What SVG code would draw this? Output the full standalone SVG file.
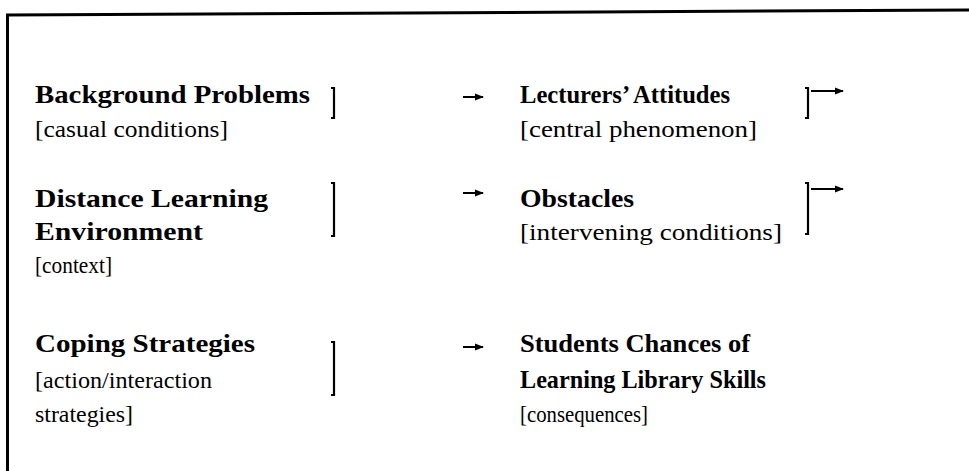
<svg xmlns="http://www.w3.org/2000/svg" width="969" height="471" viewBox="0 0 969 471">
<defs>
<marker id="ah" viewBox="0 0 10 10" refX="9" refY="5" markerWidth="9" markerHeight="9" markerUnits="userSpaceOnUse" orient="auto">
<path d="M0,1 L10,5 L0,9 Z" fill="#000"/>
</marker>
<style>
.b{font-family:"Liberation Serif","Times New Roman",serif;font-weight:bold;font-size:25px;fill:#000}
.r{font-family:"Liberation Serif","Times New Roman",serif;font-size:24px;fill:#000}
.br{fill:none;stroke:#000;stroke-width:2.2}
.ar{fill:none;stroke:#000;stroke-width:2;marker-end:url(#ah)}
.fr{fill:none;stroke:#000;stroke-width:3}
</style>
</defs>
<rect width="969" height="471" fill="#fff"/>
<g id="frame">
<path class="fr" d="M6,15 L969,10"/>
<path class="fr" d="M7.5,14 L7.5,471"/>
</g>
<g id="background-problems">
<text class="b" x="35" y="103" textLength="275" lengthAdjust="spacingAndGlyphs">Background Problems</text>
<text class="r" x="35" y="137" textLength="193" lengthAdjust="spacingAndGlyphs">[casual conditions]</text>
<path class="br" d="M331,88 L334,88 L334,118 L331,118"/>
</g>
<g id="lecturers-attitudes">
<text class="b" x="520" y="103" textLength="210" lengthAdjust="spacingAndGlyphs">Lecturers’ Attitudes</text>
<text class="r" x="520" y="137" textLength="237" lengthAdjust="spacingAndGlyphs">[central phenomenon]</text>
<path class="br" d="M805,88 L808,88 L808,118 L805,118"/>
</g>
<g id="distance-learning">
<text class="b" x="35" y="207" textLength="233" lengthAdjust="spacingAndGlyphs">Distance Learning</text>
<text class="b" x="35" y="240" textLength="168" lengthAdjust="spacingAndGlyphs">Environment</text>
<text class="r" x="35" y="273" textLength="77" lengthAdjust="spacingAndGlyphs">[context]</text>
<path class="br" d="M331,183 L334,183 L334,236 L331,236"/>
</g>
<g id="obstacles">
<text class="b" x="520" y="207" textLength="114" lengthAdjust="spacingAndGlyphs">Obstacles</text>
<text class="r" x="520" y="240" textLength="262" lengthAdjust="spacingAndGlyphs">[intervening conditions]</text>
<path class="br" d="M805,183 L808,183 L808,234 L805,234"/>
</g>
<g id="coping-strategies">
<text class="b" x="35" y="352" textLength="220" lengthAdjust="spacingAndGlyphs">Coping Strategies</text>
<text class="r" x="35" y="388" textLength="177" lengthAdjust="spacingAndGlyphs">[action/interaction</text>
<text class="r" x="35" y="422" textLength="98" lengthAdjust="spacingAndGlyphs">strategies]</text>
<path class="br" d="M331,342 L334,342 L334,395 L331,395"/>
</g>
<g id="students-chances">
<text class="b" x="520" y="352" textLength="230" lengthAdjust="spacingAndGlyphs">Students Chances of</text>
<text class="b" x="520" y="388" textLength="246" lengthAdjust="spacingAndGlyphs">Learning Library Skills</text>
<text class="r" x="520" y="422" textLength="128" lengthAdjust="spacingAndGlyphs">[consequences]</text>
</g>
<g id="connectors">
<path class="ar" d="M463,97 L483,97"/>
<path class="ar" d="M811,91 L843,91"/>
<path class="ar" d="M463,193 L483,193"/>
<path class="ar" d="M811,189 L843,189"/>
<path class="ar" d="M463,347 L483,347"/>
</g>
</svg>
